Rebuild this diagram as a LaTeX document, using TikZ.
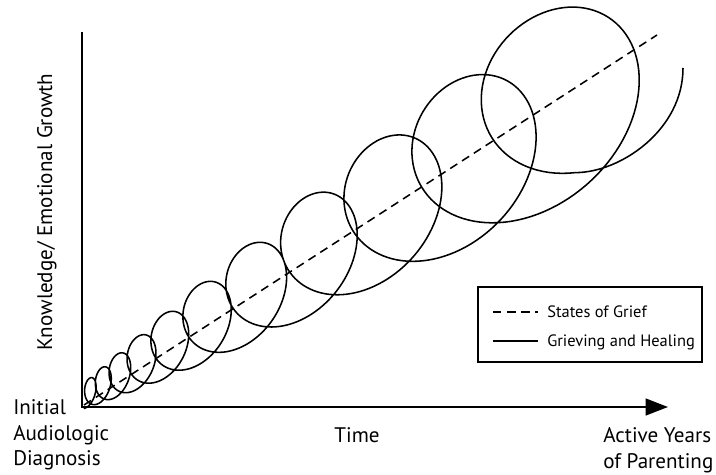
\documentclass[tikz,border=0pt]{standalone}
\usepackage{fontspec}
\setmainfont{PT Sans}
\usetikzlibrary{arrows.meta}

\begin{document}
\begin{tikzpicture}[x=0.025cm, y=-0.025cm,
    axis/.style={line width=1.5pt},
    grief/.style={line width=1.1pt, dash pattern=on 6pt off 4pt},
    heal/.style={line width=1.1pt},
    keybox/.style={line width=0.8pt},
    lbl/.style={font=\fontsize{15}{18.4}\selectfont, inner sep=0pt},
    keytxt/.style={font=\fontsize{11.7}{14}\selectfont, inner sep=0pt, anchor=base west},
    declare function={
      sP(\t)=11.71*\t+0.494*\t*\t+0.275*\t*\t*\t;
      sp(\t)=11.71+0.988*\t+0.825*\t*\t;
      sS(\t)=sP(\t)+sp(\t)/6.2832*sin(360*\t-225);
      rx(\t)=7*exp(0.321*(\t-1)-0.007*(\t-1)*(\t-1));
      ry(\t)=rx(\t)*(1+0.95*exp(-0.25*(\t-1)))*(1-0.06*exp(-(\t-11.3)*(\t-11.3)));
      off(\t)=8-0.7*\t;
      late(\t)=max(0,\t-11)*max(0,\t-11);
      bx(\t)=22*exp(-((\t-9.6)/2.3)^2)-90*late(\t);
      by(\t)=-10*exp(-((\t-8.9)/1.6)^2);
      cx(\t)=84+0.84*sS(\t)-0.542*off(\t)-rx(\t)*sin(360*\t)+bx(\t);
      cy(\t)=405-0.542*sS(\t)-0.84*off(\t)-ry(\t)*cos(360*\t)+by(\t);
    }]
    \useasboundingbox (0,0) rectangle (716,474);

    % axes
    \coordinate (origin) at (82,407);
    \coordinate (ytop) at (82,32);
    \coordinate (xend) at (668,407);
    \draw[axis, -{Triangle[length=16pt,width=12pt]}] (ytop) -- (origin) -- (xend);

    % states of grief
    \coordinate (dashStart) at (84,405);
    \coordinate (dashEnd) at (657,35);
    \draw[grief] (dashStart) -- (dashEnd);

    % grieving and healing
    \coordinate (spiralEnd) at (683,68);
    \draw[heal] plot[domain=0.5:11.5, samples=1100, variable=\t] ({cx(\t)},{cy(\t)})
        .. controls +(45,0) and (683,130) .. (spiralEnd);

    % labels
    \node[lbl, rotate=90, anchor=base] (ylabel) at (52,212) {Knowledge/ Emotional Growth};
    \node[lbl, anchor=north west, align=left] (diag) at (13,399) {Initial\\Audiologic\\Diagnosis};
    \node[lbl, anchor=base] (time) at (357,442) {Time};
    \node[lbl, anchor=north west, align=left] (active) at (603,427) {Active Years\\of Parenting};

    % key
    \coordinate (keyNW) at (478,287);
    \coordinate (keySE) at (702,362);
    \draw[keybox] (keyNW) rectangle (keySE);
    \node[keytxt] (griefTxt) at (547,317) {States of Grief};
    \node[keytxt] (healTxt) at (547,346) {Grieving and Healing};
    \draw[grief] (493,312) -- (538,312);
    \draw[heal] (493,341) -- (538,341);
\end{tikzpicture}
\end{document}
